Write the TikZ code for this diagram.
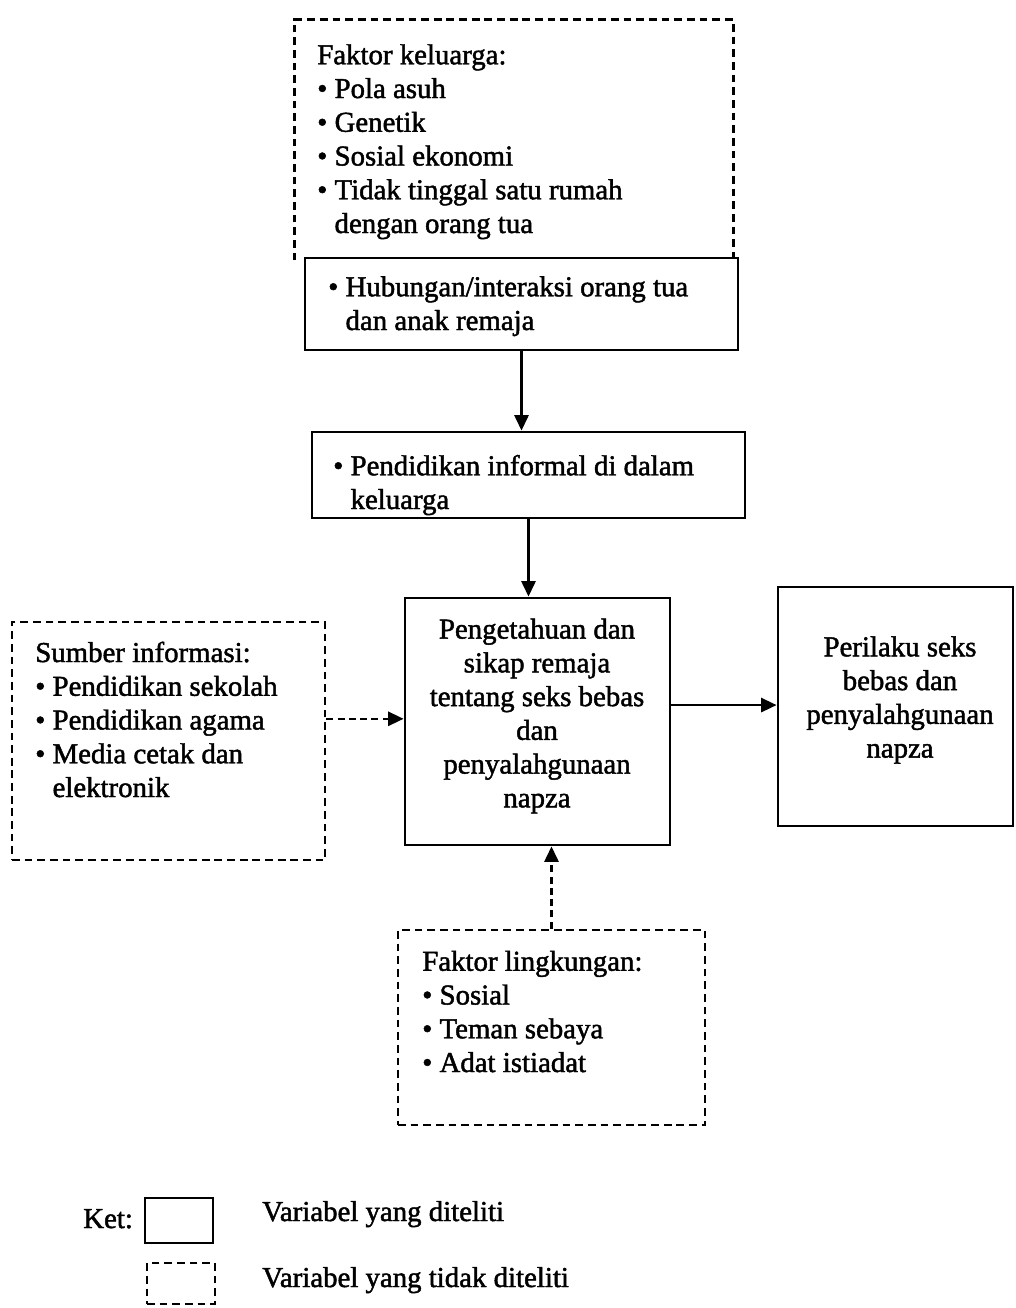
\documentclass[tikz,border=0pt]{standalone}
\usepackage{fontspec}
\setmainfont[FakeBold=1.6]{Liberation Serif}
\usetikzlibrary{arrows.meta, fit, positioning}
\newcommand{\diagfont}{\fontsize{20.5}{24}\selectfont}
\newcommand{\bul}{\textbullet\ }
\newcommand{\hang}{\hphantom{\textbullet\ }}
\tikzset{
  solidbox/.style={draw, line width=2pt, inner sep=0pt},
  dashedbox/.style={draw, line width=2pt, dash pattern=on 5.5pt off 3.5pt, inner sep=0pt},
  boxtext/.style={anchor=base west, align=left, inner sep=0pt, font=\diagfont},
  plainarrow/.style={-{Triangle[length=11pt, width=10pt]}, line width=1.8pt},
  dashedarrow/.style={plainarrow, dash pattern=on 5pt off 3pt},
}

\begin{document}
\begin{tikzpicture}[x=0.025cm, y=-0.025cm]
  \useasboundingbox (0,0) rectangle (1015,1308);

  \node[inner sep=0pt, fit={(295,20) (733,260)}] (fam) {};
  \draw[line width=2pt, dash pattern=on 5.5pt off 3.5pt] (fam.south west) |- (fam.north east) -- (fam.south east);
  \node[solidbox, fill=white, fit={(305,258) (738,350)}] (hub) {};
  \node[solidbox, fit={(312,432) (745,518)}] (inf) {};
  \node[solidbox, fit={(405,598) (670,845)}] (know) {};
  \node[solidbox, fit={(778,587) (1013,826)}] (behave) {};
  \node[dashedbox, fit={(12,622) (325,860)}] (src) {};
  \node[dashedbox, fit={(398,930) (705,1125)}] (env) {};

  % anchors sit on the baseline of each text's last line
  \node[boxtext] (famtxt) at (317,233) {Faktor keluarga:\\ \bul Pola asuh\\ \bul Genetik\\ \bul Sosial ekonomi\\
    \bul Tidak tinggal satu rumah\\ \hang dengan orang tua};
  \node[boxtext] (hubtxt) at (328,330) {\bul Hubungan/interaksi orang tua\\ \hang dan anak remaja};
  \node[boxtext] (inftxt) at (333,509) {\bul Pendidikan informal di dalam\\ \hang keluarga};
  \node[boxtext] (srctxt) at (35,797) {Sumber informasi:\\ \bul Pendidikan sekolah\\ \bul Pendidikan agama\\
    \bul Media cetak dan\\ \hang elektronik};
  \node[boxtext] (envtxt) at (422,1072) {Faktor lingkungan:\\ \bul Sosial\\ \bul Teman sebaya\\ \bul Adat istiadat};
  \node[align=center, inner sep=0pt, font=\diagfont] (knowtxt) at (537,716) {Pengetahuan dan\\ sikap remaja\\
    tentang seks bebas\\ dan\\ penyalahgunaan\\ napza};
  \node[align=center, inner sep=0pt, font=\diagfont] (behavetxt) at (900,700) {Perilaku seks\\ bebas dan\\
    penyalahgunaan\\ napza};

  \draw[plainarrow] (hub.south) -- (hub.south |- inf.north);
  \draw[plainarrow] (inf.south) -- (inf.south |- know.north);
  \draw[plainarrow] (know.7) -- (know.7 -| behave.west);
  \draw[dashedarrow] (src.8) -- (src.8 -| know.west);
  \draw[dashedarrow] (env.north) -- (env.north |- know.south);

  % legend
  \node[boxtext] (ket) at (83,1228) {Ket:};
  \node[solidbox, fit={(145,1198) (213,1243)}] (keysolid) {};
  \node[dashedbox, fit={(147,1263) (215,1304)}] (keydashed) {};
  \node[boxtext] (keysolidtxt) at (262,1221) {Variabel yang diteliti};
  \node[boxtext] (keydashedtxt) at (262,1287) {Variabel yang tidak diteliti};
\end{tikzpicture}
\end{document}
